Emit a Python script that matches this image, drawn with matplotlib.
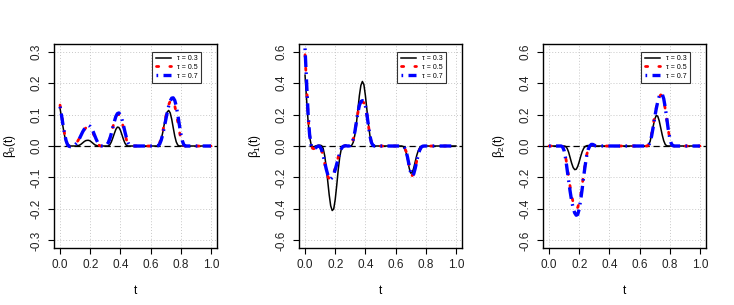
import numpy as np
import matplotlib
matplotlib.use("Agg")
import matplotlib.pyplot as plt

t = np.round(np.arange(0, 101) * 0.01, 2)

b0_03 = [0.120, 0.090, 0.060, 0.033, 0.012, 0.002, 0, 0, 0, 0,
         0, 0, 0.001, 0.003, 0.006, 0.010, 0.014, 0.017, 0.018, 0.018,
         0.016, 0.012, 0.008, 0.004, 0.002, 0.0005, 0, 0, 0, 0,
         0, 0, 0, 0.004, 0.013, 0.026, 0.040, 0.053, 0.060, 0.059,
         0.050, 0.036, 0.021, 0.009, 0.002, 0, 0, 0, 0, 0,
         0, 0, 0, 0, 0, 0, 0, 0, 0, 0,
         0, 0, 0, 0, 0, 0, 0.005, 0.020, 0.042, 0.068,
         0.092, 0.108, 0.113, 0.105, 0.085, 0.058, 0.032, 0.013, 0.003, 0,
         0, 0, 0, 0, 0, 0, 0, 0, 0, 0,
         0, 0, 0, 0, 0, 0, 0, 0, 0, 0,
         0]
b0_05 = [0.130, 0.100, 0.068, 0.040, 0.018, 0.005, 0, -0.002, -0.001, 0,
         0.004, 0.010, 0.018, 0.027, 0.036, 0.045, 0.052, 0.057, 0.060, 0.060,
         0.057, 0.050, 0.040, 0.028, 0.016, 0.007, 0.002, 0, 0, 0,
         0, 0.004, 0.012, 0.025, 0.042, 0.060, 0.078, 0.092, 0.100, 0.100,
         0.092, 0.077, 0.058, 0.038, 0.020, 0.008, 0.002, 0, 0, 0,
         0, 0, 0, 0, 0, 0, 0, 0, 0, 0,
         0, 0, 0, 0, 0, 0.002, 0.010, 0.025, 0.045, 0.068,
         0.092, 0.114, 0.131, 0.143, 0.147, 0.143, 0.128, 0.105, 0.077, 0.048,
         0.024, 0.008, 0.001, 0, 0, 0, 0, 0, 0, 0,
         0, 0, 0, 0, 0, 0, 0, 0, 0, 0,
         0]
b0_07 = [0.125, 0.097, 0.066, 0.039, 0.017, 0.004, -0.001, -0.002, -0.001, 0.001,
         0.004, 0.009, 0.016, 0.025, 0.035, 0.045, 0.053, 0.060, 0.064, 0.065,
         0.062, 0.055, 0.045, 0.033, 0.021, 0.011, 0.004, 0.001, 0, 0,
         0.001, 0.004, 0.011, 0.023, 0.040, 0.059, 0.078, 0.094, 0.103, 0.105,
         0.099, 0.085, 0.066, 0.045, 0.026, 0.011, 0.003, 0, 0, 0,
         0, 0, 0, 0, 0, 0, 0, 0, 0, 0,
         0, 0, 0, 0, 0, 0.001, 0.006, 0.018, 0.036, 0.058,
         0.082, 0.106, 0.127, 0.143, 0.152, 0.153, 0.145, 0.127, 0.100, 0.069,
         0.040, 0.017, 0.004, 0, 0, 0, 0, 0, 0, 0,
         0, 0, 0, 0, 0, 0, 0, 0, 0, 0,
         0]

b1_03 = [0.45, 0.30, 0.16, 0.06, 0.01, -0.005, -0.005, 0, 0.003, 0.005,
         0.005, 0.002, -0.015, -0.06, -0.13, -0.22, -0.31, -0.38, -0.41, -0.40,
         -0.34, -0.25, -0.15, -0.07, -0.02, 0, 0.003, 0.002, 0, 0,
         0, 0.005, 0.025, 0.07, 0.14, 0.23, 0.32, 0.385, 0.41, 0.39,
         0.32, 0.23, 0.14, 0.065, 0.02, 0.003, 0, 0, 0, 0,
         0, 0, 0, 0, 0, 0, 0, 0, 0, 0,
         0, 0, 0, 0, 0, -0.003, -0.015, -0.045, -0.09, -0.14,
         -0.172, -0.17, -0.14, -0.10, -0.06, -0.03, -0.01, -0.002, 0, 0,
         0, 0, 0, 0, 0, 0, 0, 0, 0, 0,
         0, 0, 0, 0, 0, 0, 0, 0, 0, 0,
         0]
b1_05 = [0.58, 0.39, 0.20, 0.07, 0.005, -0.015, -0.018, -0.012, -0.004, 0,
         -0.006, -0.028, -0.065, -0.11, -0.155, -0.19, -0.21, -0.21, -0.195, -0.17,
         -0.14, -0.105, -0.07, -0.04, -0.016, -0.004, 0, 0.002, 0, 0,
         0.003, 0.015, 0.045, 0.09, 0.15, 0.21, 0.255, 0.275, 0.28, 0.275,
         0.25, 0.195, 0.13, 0.065, 0.022, 0.004, 0, 0, 0, 0,
         0, 0, 0, 0, 0, 0, 0, 0, 0, 0,
         0, 0, 0, 0, 0, -0.003, -0.012, -0.035, -0.075, -0.125,
         -0.168, -0.188, -0.175, -0.14, -0.095, -0.055, -0.025, -0.008, -0.001, 0,
         0, 0, 0, 0, 0, 0, 0, 0, 0, 0,
         0, 0, 0, 0, 0, 0, 0, 0, 0, 0,
         0]
b1_07 = [0.62, 0.41, 0.21, 0.075, 0.008, -0.014, -0.018, -0.012, -0.004, 0,
         -0.005, -0.025, -0.06, -0.10, -0.145, -0.18, -0.205, -0.21, -0.20, -0.18,
         -0.15, -0.115, -0.08, -0.045, -0.018, -0.004, 0, 0.002, 0, 0,
         0.003, 0.015, 0.045, 0.09, 0.15, 0.21, 0.258, 0.282, 0.288, 0.282,
         0.255, 0.20, 0.13, 0.065, 0.022, 0.004, 0, 0, 0, 0,
         0, 0, 0, 0, 0, 0, 0, 0, 0, 0,
         0, 0, 0, 0, 0, -0.003, -0.012, -0.035, -0.075, -0.125,
         -0.17, -0.19, -0.178, -0.142, -0.097, -0.056, -0.025, -0.008, -0.001, 0,
         0, 0, 0, 0, 0, 0, 0, 0, 0, 0,
         0, 0, 0, 0, 0, 0, 0, 0, 0, 0,
         0]

b2_03 = [0, 0, 0, 0, 0, 0, 0, 0, 0, 0,
         0, -0.003, -0.015, -0.04, -0.075, -0.11, -0.137, -0.15, -0.148, -0.13,
         -0.10, -0.065, -0.035, -0.014, -0.003, 0.002, 0.003, 0.001, 0, 0,
         0, 0, 0, 0, 0, 0, 0, 0, 0, 0,
         0, 0, 0, 0, 0, 0, 0, 0, 0, 0,
         0, 0, 0, 0, 0, 0, 0, 0, 0, 0,
         0, 0, 0, 0, 0, 0, 0.005, 0.03, 0.075, 0.125,
         0.17, 0.193, 0.19, 0.16, 0.115, 0.07, 0.033, 0.01, 0.001, 0,
         0, 0, 0, 0, 0, 0, 0, 0, 0, 0,
         0, 0, 0, 0, 0, 0, 0, 0, 0, 0,
         0]
b2_05 = [0, 0, 0, 0, 0, 0, 0, 0, 0, -0.004,
         -0.025, -0.07, -0.13, -0.195, -0.26, -0.315, -0.36, -0.39, -0.40, -0.39,
         -0.36, -0.31, -0.245, -0.175, -0.11, -0.055, -0.018, 0, 0.008, 0.008,
         0.004, 0.001, 0, 0, 0, 0, 0, 0, 0, 0,
         0, 0, 0, 0, 0, 0, 0, 0, 0, 0,
         0, 0, 0, 0, 0, 0, 0, 0, 0, 0,
         0, 0, 0, 0, 0, 0, 0.008, 0.035, 0.08, 0.135,
         0.19, 0.24, 0.28, 0.31, 0.325, 0.318, 0.29, 0.235, 0.17, 0.10,
         0.048, 0.015, 0.002, 0, 0, 0, 0, 0, 0, 0,
         0, 0, 0, 0, 0, 0, 0, 0, 0, 0,
         0]
b2_07 = [0, 0, 0, 0, 0, 0, 0, 0, 0, -0.005,
         -0.03, -0.08, -0.15, -0.22, -0.29, -0.35, -0.395, -0.425, -0.44, -0.435,
         -0.40, -0.34, -0.27, -0.19, -0.12, -0.06, -0.02, 0, 0.01, 0.01,
         0.005, 0.001, 0, 0, 0, 0, 0, 0, 0, 0,
         0, 0, 0, 0, 0, 0, 0, 0, 0, 0,
         0, 0, 0, 0, 0, 0, 0, 0, 0, 0,
         0, 0, 0, 0, 0, 0, 0.005, 0.025, 0.065, 0.12,
         0.18, 0.235, 0.28, 0.315, 0.333, 0.33, 0.30, 0.245, 0.175, 0.105,
         0.05, 0.015, 0.002, 0, 0, 0, 0, 0, 0, 0,
         0, 0, 0, 0, 0, 0, 0, 0, 0, 0,
         0]

taus = ["0.3", "0.5", "0.7"]
panels = [
    (r"$\beta_0(t)$", [b0_03, b0_05, b0_07], 0.3, [-0.3, -0.2, -0.1, 0.0, 0.1, 0.2, 0.3]),
    (r"$\beta_1(t)$", [b1_03, b1_05, b1_07], 0.6, [-0.6, -0.4, -0.2, 0.0, 0.2, 0.4, 0.6]),
    (r"$\beta_2(t)$", [b2_03, b2_05, b2_07], 0.6, [-0.6, -0.4, -0.2, 0.0, 0.2, 0.4, 0.6]),
]
xticks = [0.0, 0.2, 0.4, 0.6, 0.8, 1.0]

plt.rcParams['font.family'] = ['Liberation Sans', 'DejaVu Sans']
plt.rcParams['mathtext.fontset'] = 'custom'
plt.rcParams['mathtext.rm'] = 'Liberation Sans'
plt.rcParams['mathtext.it'] = 'Liberation Sans'

fig = plt.figure(figsize=(7.34, 3.05), dpi=100)
lefts = [54, 299, 543]
W, H = 734, 305
styles = [
    dict(color="black", lw=1.1, ls="-"),
    dict(color="red", lw=2.0, ls=(0, (0.8, 4.0)), dash_capstyle="round"),
    dict(color="blue", lw=2.4, ls=(0, (0.5, 1.6, 3.5, 1.6)), dash_capstyle="butt"),
]
for (ylab, series, lim, yt), lx in zip(panels, lefts):
    ax = fig.add_axes([lx / W, 1 - 248 / H, 163 / W, 204 / H])
    ax.set_xlim(-0.04, 1.04)
    ax.set_ylim(-lim * 1.08, lim * 1.08)
    ax.set_xticks(xticks)
    ax.set_yticks(yt)
    ax.set_xticklabels([f"{v:.1f}" for v in xticks])
    ax.set_yticklabels([f"{v:.1f}" for v in yt], rotation=90, va="center")
    ax.grid(True, color="#c8c8c8", ls=(0, (1, 2)), lw=0.7)
    ax.set_axisbelow(True)
    ax.axhline(0, color="black", lw=0.9, ls=(0, (5, 3)))
    for s, tau, st in zip(series, taus, styles):
        ax.plot(t, s, label="\u03c4 = " + tau, **st)
    ax.tick_params(labelsize=8.5, length=4, width=0.8, pad=4, labelcolor="#222222")
    for sp in ax.spines.values():
        sp.set_linewidth(1.0)
    ax.set_xlabel("t", fontsize=8.5, labelpad=10)
    ax.set_ylabel(ylab, fontsize=8.5, labelpad=9)
    leg = ax.legend(loc="upper right", fontsize=5, frameon=True, fancybox=False,
                    edgecolor="black", handlelength=2.2, handletextpad=0.9,
                    borderpad=0.45, labelspacing=0.25, borderaxespad=0,
                    bbox_to_anchor=(0.902, 0.961))
    leg.get_frame().set_linewidth(0.8)

fig.savefig("out.png", dpi=100)
